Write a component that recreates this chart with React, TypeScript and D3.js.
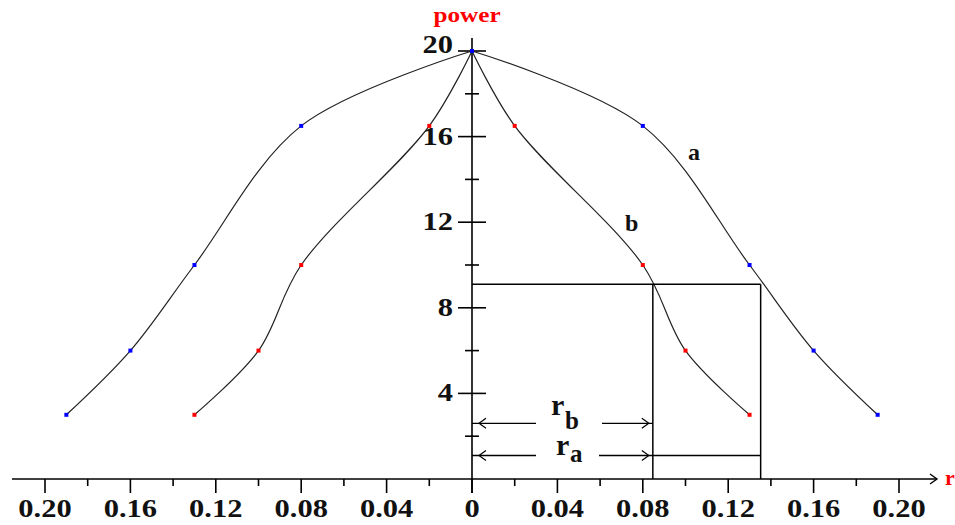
import React from "react";
import * as d3 from "d3";

// ---- data ----
const curveAX = [0, 0.08, 0.13, 0.16, 0.19];
const curveAY = [20, 16.5, 10, 6, 3];
const curveBX = [0, 0.02, 0.08, 0.1, 0.13];
const curveBY = [20, 16.5, 10, 6, 3];
const xMajorTicks = [-0.2, -0.16, -0.12, -0.08, -0.04, 0, 0.04, 0.08, 0.12, 0.16, 0.2];
const xTickLabels = ["0.20", "0.16", "0.12", "0.08", "0.04", "0", "0.04", "0.08", "0.12", "0.16", "0.20"];
const xMinorTicks = [-0.18, -0.14, -0.1, -0.06, -0.02, 0.02, 0.06, 0.1, 0.14, 0.18];
const yMajorTicks = [4, 8, 12, 16, 20];
const yTickLabels = ["4", "8", "12", "16", "20"];
const yMinorTicks = [2, 6, 10, 14, 18];
const powerLevel = 9.1;
const rA = 0.1352;
const rB = 0.0847;
const rArrowLevels = [2.6, 1.1]; // r_b, r_a

const W = 955;
const H = 525;
const FONT = "'Liberation Serif', 'Times New Roman', serif";

export default function App() {
  const x = d3.scaleLinear().domain([-0.2, 0.2]).range([45, 899]);
  const y = d3.scaleLinear().domain([0, 20]).range([479, 51]);
  const x0 = x(0);
  const y0 = y(0);

  const line = d3
    .line<[number, number]>()
    .x((d) => x(d[0]))
    .y((d) => y(d[1]))
    .curve(d3.curveCatmullRom.alpha(0.5));

  const half = (xs: number[], ys: number[], sign: number) =>
    xs.map((v, i) => [sign * v, ys[i]] as [number, number]);

  const curves = [
    { xs: curveAX, ys: curveAY, color: "#0000ff" },
    { xs: curveBX, ys: curveBY, color: "#ff0000" },
  ];

  const chevronLeft = (tx: number, ty: number) =>
    `M${tx + 7},${ty - 5} L${tx},${ty} L${tx + 7},${ty + 5}`;
  const chevronRight = (tx: number, ty: number) =>
    `M${tx - 7},${ty - 5} L${tx},${ty} L${tx - 7},${ty + 5}`;

  const yRb = y(rArrowLevels[0]);
  const yRa = y(rArrowLevels[1]);

  return (
    <svg
      width={W}
      height={H}
      style={{ position: "fixed", left: 0, top: 0, background: "#fff" }}
      fontFamily={FONT}
    >
      <rect width={W} height={H} fill="#fff" />
      {/* x axis */}
      <line x1={12} x2={937} y1={y0} y2={y0} stroke="#000" strokeWidth={1.6} />
      <path d={chevronRight(937, y0)} fill="none" stroke="#000" strokeWidth={1.4} />
      {xMajorTicks.map((t) => (
        <line key={"xm" + t} x1={x(t)} x2={x(t)} y1={y0} y2={y0 + 14} stroke="#000" strokeWidth={1.6} />
      ))}
      {xMinorTicks.map((t) => (
        <line key={"xn" + t} x1={x(t)} x2={x(t)} y1={y0} y2={y0 + 7} stroke="#000" strokeWidth={1.6} />
      ))}
      {xMajorTicks.map((t, i) => (
        <text
          key={"xl" + t}
          transform={`translate(${x(t)},517) scale(1.22,1)`}
          textAnchor="middle"
          fontSize={25}
          fontWeight="bold"
          fill="#111"
        >
          {xTickLabels[i]}
        </text>
      ))}
      <text x={945} y={485} fontSize={22} fontWeight="bold" fill="#ff0000">
        r
      </text>

      {/* y axis */}
      <line x1={x0} x2={x0} y1={38} y2={y0 + 14} stroke="#000" strokeWidth={1.6} />
      {yMajorTicks.map((t) => (
        <line key={"ym" + t} x1={x0 - 14} x2={x0 + 14} y1={y(t)} y2={y(t)} stroke="#000" strokeWidth={1.6} />
      ))}
      {yMinorTicks.map((t) => (
        <line key={"yn" + t} x1={x0 - 7} x2={x0 + 7} y1={y(t)} y2={y(t)} stroke="#000" strokeWidth={1.6} />
      ))}
      {yMajorTicks.map((t, i) => (
        <text
          key={"yl" + t}
          transform={`translate(453,${y(t) + (t === 20 ? 2 : 8)}) scale(1.22,1)`}
          textAnchor="end"
          fontSize={25}
          fontWeight="bold"
          fill="#111"
        >
          {yTickLabels[i]}
        </text>
      ))}
      <text
        transform="translate(467,22) scale(1.2,1)"
        textAnchor="middle"
        fontSize={21}
        fontWeight="bold"
        fill="#ff0000"
      >
        power
      </text>

      {/* curves */}
      {curves.map((c, ci) =>
        [-1, 1].map((s) => (
          <path
            key={"c" + ci + s}
            d={line(half(c.xs, c.ys, s)) || ""}
            fill="none"
            stroke="#222"
            strokeWidth={1.2}
          />
        ))
      )}
      {curves.map((c, ci) =>
        [-1, 1].map((s) =>
          half(c.xs, c.ys, s).map((p, i) => (
            <rect
              key={"p" + ci + s + i}
              x={x(p[0]) - 2}
              y={y(p[1]) - 2}
              width={4}
              height={4}
              fill={i === 0 ? "#0000ff" : c.color}
            />
          ))
        )
      )}
      <text x={688} y={160} fontSize={24} fontWeight="bold" fill="#111">
        a
      </text>
      <text x={625} y={231} fontSize={24} fontWeight="bold" fill="#111">
        b
      </text>

      {/* r_a / r_b construction */}
      <line x1={x0} x2={x(rA)} y1={y(powerLevel)} y2={y(powerLevel)} stroke="#000" strokeWidth={1.5} />
      <line x1={x(rB)} x2={x(rB)} y1={y(powerLevel)} y2={y0} stroke="#000" strokeWidth={1.5} />
      <line x1={x(rA)} x2={x(rA)} y1={y(powerLevel)} y2={y0} stroke="#000" strokeWidth={1.5} />

      {/* r_b arrows */}
      <line x1={x0} x2={536} y1={yRb} y2={yRb} stroke="#000" strokeWidth={1.4} />
      <path d={chevronLeft(x0 + 7, yRb)} fill="none" stroke="#000" strokeWidth={1.2} />
      <line x1={602} x2={x(rB)} y1={yRb} y2={yRb} stroke="#000" strokeWidth={1.4} />
      <path d={chevronRight(x(rB) - 4, yRb)} fill="none" stroke="#000" strokeWidth={1.2} />
      <text x={551} y={415} fontSize={30} fontWeight="bold" fill="#111">
        r
      </text>
      <text x={565} y={429} fontSize={25} fontWeight="bold" fill="#111">
        b
      </text>

      {/* r_a arrows */}
      <line x1={x0} x2={536} y1={yRa} y2={yRa} stroke="#000" strokeWidth={1.4} />
      <path d={chevronLeft(x0 + 7, yRa)} fill="none" stroke="#000" strokeWidth={1.2} />
      <line x1={599} x2={x(rA)} y1={yRa} y2={yRa} stroke="#000" strokeWidth={1.4} />
      <path d={chevronRight(x(rB) - 4, yRa)} fill="none" stroke="#000" strokeWidth={1.2} />
      <text x={556} y={455} fontSize={30} fontWeight="bold" fill="#111">
        r
      </text>
      <text x={570} y={462} fontSize={25} fontWeight="bold" fill="#111">
        a
      </text>
    </svg>
  );
}
